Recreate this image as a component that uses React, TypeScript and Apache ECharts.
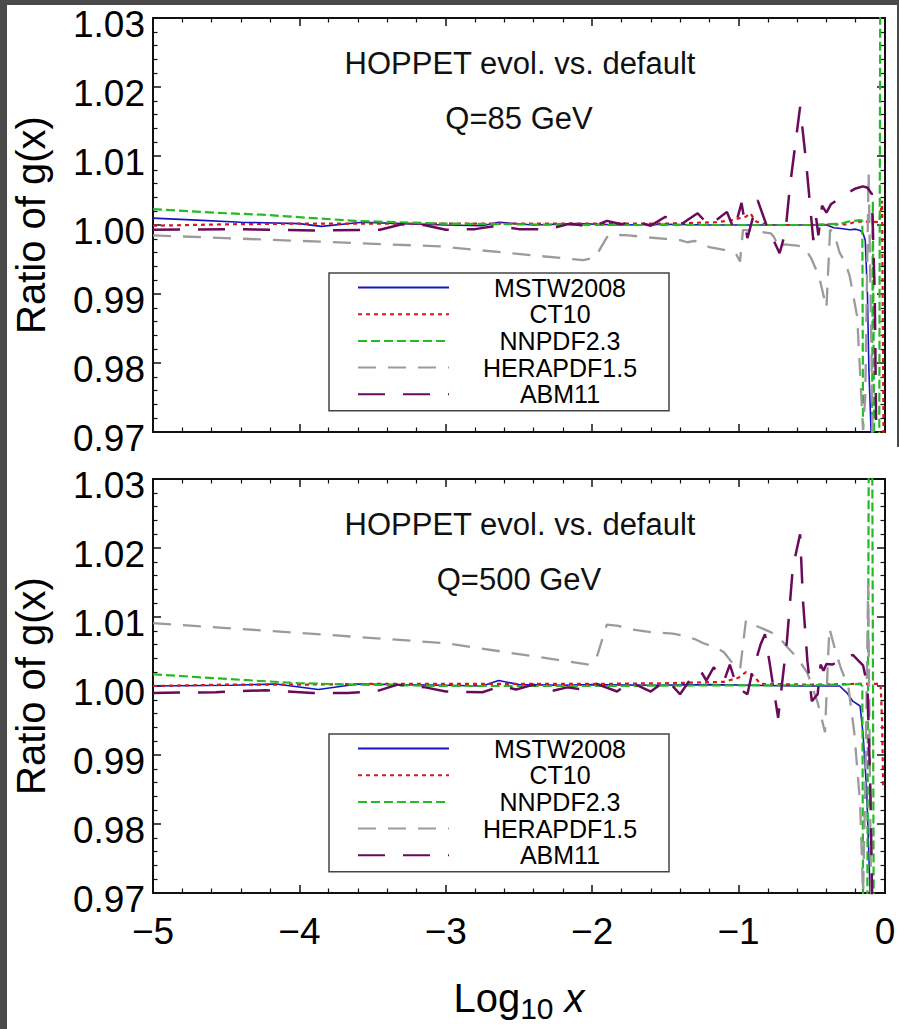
import React, { useEffect, useRef } from 'react';
import * as echarts from 'echarts';

const FONT = '"Liberation Sans", Arial, Helvetica, sans-serif';

const seriesNames = ['MSTW2008', 'CT10', 'NNPDF2.3', 'HERAPDF1.5', 'ABM11'];
const panelTitles = ['HOPPET evol. vs. default', 'HOPPET evol. vs. default'];
const panelScales = ['Q=85 GeV', 'Q=500 GeV'];
const xName = 'Log';
const xNameSub = '10';
const xNameVar = ' x';
const yName = 'Ratio of g(x)';

// ---------- Q = 85 GeV ----------
const mstw85: [number, number][] = [
  [-5, 1.001], [-4.7, 1.0007], [-4.4, 1.0004], [-4.0, 1.0002], [-3.85, 0.9998], [-3.57, 1.0004],
  [-3.31, 1.0002], [-3.0, 1.0], [-2.75, 0.9999], [-2.64, 1.0004], [-2.4, 1.0], [-2.1, 1.0002],
  [-1.8, 1.0], [-1.5, 1.0001], [-1.2, 1.0], [-0.9, 1.0], [-0.6, 1.0], [-0.4, 1.0],
  [-0.35, 0.9996], [-0.3, 0.9995], [-0.24, 0.9993], [-0.2, 0.9994], [-0.17, 0.9992],
  [-0.15, 0.9988], [-0.135, 0.9978], [-0.12, 0.99], [-0.11, 0.979], [-0.095, 0.97], [-0.08, 0.96],
];
const ct1085: [number, number][] = [
  [-5, 0.9999], [-4.5, 1.0001], [-4.0, 1.0002], [-3.5, 1.0002], [-3.0, 1.0002], [-2.5, 1.0002],
  [-2.0, 1.0002], [-1.5, 1.0002], [-1.15, 1.0004], [-1.05, 1.0007], [-0.95, 1.0012],
  [-0.92, 1.0017], [-0.88, 1.0005], [-0.8, 1.0], [-0.5, 1.0], [-0.25, 1.0001], [-0.2, 1.0005],
  [-0.1, 1.0005], [-0.04, 1.0004], [-0.02, 1.0035], [-0.01, 0.97], [0, 0.95],
];
const nnpdf85: [number, number][] = [
  [-5, 1.0023], [-4.5, 1.0017], [-4.26, 1.0015], [-3.62, 1.0006], [-3.02, 1.0002], [-2.5, 1.0001],
  [-2.0, 1.0], [-1.5, 1.0], [-1.0, 1.0], [-0.5, 1.0], [-0.3, 1.0002], [-0.25, 1.0005],
  [-0.17, 1.0007], [-0.155, 1.0006], [-0.148, 0.96], [-0.09, 0.96], [-0.083, 1.0035],
  [-0.072, 0.96], [-0.04, 0.96], [-0.032, 1.04], [-0.025, 1.04],
];
const hera85: [number, number][] = [
  [-5, 0.9985], [-4, 0.9977], [-3.04, 0.9969], [-2.06, 0.9949], [-1.98, 0.9953], [-1.9, 0.9982],
  [-1.88, 0.9986], [-1.75, 0.9985], [-1.62, 0.9982], [-1.5, 0.998], [-1.4, 0.9978], [-1.35, 0.9975],
  [-1.3, 0.9977], [-1.2, 0.9968], [-1.1, 0.9964], [-1.02, 0.9959], [-0.99, 0.9947], [-0.97, 0.9993],
  [-0.85, 0.999], [-0.78, 0.9988], [-0.76, 0.9983], [-0.72, 0.9966], [-0.69, 0.9972], [-0.6, 0.997],
  [-0.55, 0.9968], [-0.5, 0.995], [-0.45, 0.9925], [-0.4, 0.988], [-0.375, 0.9993], [-0.35, 0.999],
  [-0.31, 0.996], [-0.27, 0.9945], [-0.24, 0.9925], [-0.19, 0.9867], [-0.15, 0.9703],
  [-0.135, 0.975], [-0.112, 1.0075], [-0.095, 0.985], [-0.078, 0.96],
];
const abm85: [number, number][] = [
  [-5, 0.9993], [-4.4, 0.9994], [-3.9, 0.9992], [-3.45, 0.9993], [-3.3, 1.0001], [-3.15, 1.0],
  [-3.0, 0.9993], [-2.8, 0.9994], [-2.65, 0.9999], [-2.5, 0.9994], [-2.3, 0.9994], [-2.15, 1.0002],
  [-2.0, 0.9997], [-1.9, 1.0006], [-1.8, 1.0001], [-1.72, 1.0006], [-1.6, 0.9999], [-1.5, 1.0012],
  [-1.4, 1.0], [-1.28, 1.0017], [-1.2, 0.9999], [-1.08, 1.0019], [-1.03, 0.9993], [-0.98, 1.0032],
  [-0.94, 0.9981], [-0.87, 1.0036], [-0.81, 1.0], [-0.72, 0.9959], [-0.68, 0.999], [-0.65, 1.0055],
  [-0.58, 1.0171], [-0.54, 1.0094], [-0.49, 0.9978], [-0.47, 1.001], [-0.455, 0.9985],
  [-0.43, 1.0028], [-0.4, 1.0018], [-0.37, 1.003], [-0.26, 1.0046], [-0.2, 1.0053],
  [-0.15, 1.0056], [-0.12, 1.0054], [-0.09, 1.0045], [-0.07, 0.99], [-0.055, 0.96],
];

// ---------- Q = 500 GeV ----------
const mstw500: [number, number][] = [
  [-5, 1.0], [-4.46, 1.0001], [-4.16, 1.0003], [-3.87, 0.9995], [-3.6, 1.0003], [-3.33, 1.0002],
  [-3.0, 1.0001], [-2.75, 1.0], [-2.64, 1.0008], [-2.5, 1.0002], [-2.2, 1.0001], [-2.0, 1.0002],
  [-1.6, 1.0001], [-1.2, 1.0002], [-0.9, 1.0001], [-0.6, 1.0], [-0.31, 1.0], [-0.26, 0.999],
  [-0.22, 0.9978], [-0.17, 0.9971], [-0.15, 0.993], [-0.125, 0.9848], [-0.102, 0.9703], [-0.09, 0.96],
];
const ct10500: [number, number][] = [
  [-5, 1.0], [-4.5, 1.0002], [-4.0, 1.0002], [-3.5, 1.0003], [-3.0, 1.0003], [-2.5, 1.0003],
  [-2.0, 1.0003], [-1.5, 1.0004], [-1.1, 1.0006], [-1.0, 1.0012], [-0.95, 1.002], [-0.9, 1.0015],
  [-0.85, 1.0003], [-0.5, 1.0002], [-0.2, 1.0003], [-0.03, 1.0003], [-0.02, 0.995], [-0.012, 0.985],
];
const nnpdf500: [number, number][] = [
  [-5, 1.0017], [-4.48, 1.001], [-4.0, 1.0004], [-3.6, 1.0002], [-3.0, 1.0], [-2.0, 1.0],
  [-1.0, 1.0001], [-0.5, 1.0001], [-0.3, 1.0002], [-0.17, 1.0003], [-0.155, 1.0], [-0.148, 0.96],
  [-0.122, 0.96], [-0.11, 1.04], [-0.088, 1.04], [-0.076, 0.96],
];
const hera500: [number, number][] = [
  [-5, 1.0091], [-4, 1.0077], [-3, 1.0062], [-2.02, 1.0031], [-1.97, 1.0041], [-1.9, 1.0089],
  [-1.82, 1.0087], [-1.76, 1.0083], [-1.6, 1.0078], [-1.45, 1.0076], [-1.38, 1.0073], [-1.3, 1.0068],
  [-1.24, 1.0062], [-1.15, 1.0055], [-1.1, 1.0049], [-1.02, 1.0027], [-0.99, 1.0024], [-0.95, 1.0095],
  [-0.9, 1.0089], [-0.78, 1.0078], [-0.73, 1.0072], [-0.67, 1.0057], [-0.6, 1.0041], [-0.53, 1.0019],
  [-0.46, 0.9976], [-0.41, 0.9933], [-0.38, 1.0084], [-0.34, 1.0052], [-0.3, 1.0025], [-0.25, 0.9998],
  [-0.21, 0.9933], [-0.17, 0.983], [-0.15, 0.97], [-0.135, 0.985], [-0.115, 1.0148], [-0.1, 0.98],
  [-0.09, 0.96],
];
const abm500: [number, number][] = [
  [-5, 0.999], [-4.57, 0.9991], [-4.23, 0.9994], [-3.91, 0.999], [-3.67, 0.999], [-3.48, 0.9992],
  [-3.33, 1.0002], [-3.14, 0.9998], [-3.0, 0.9992], [-2.75, 0.9991], [-2.62, 1.0], [-2.52, 0.9995],
  [-2.4, 1.0002], [-2.29, 0.9992], [-2.17, 0.9998], [-2.06, 0.9995], [-1.97, 1.0003], [-1.83, 0.9992],
  [-1.74, 1.0006], [-1.6, 0.9992], [-1.49, 1.0009], [-1.4, 0.9988], [-1.3, 1.0019], [-1.26, 1.0022],
  [-1.22, 1.0008], [-1.17, 1.0027], [-1.1, 1.0007], [-1.06, 1.0031], [-1.01, 0.9998], [-0.94, 0.9988],
  [-0.91, 1.0017], [-0.85, 1.006], [-0.82, 1.0075], [-0.79, 1.0036], [-0.73, 0.9954], [-0.67, 1.0065],
  [-0.63, 1.0171], [-0.58, 1.022], [-0.56, 1.0123], [-0.53, 1.0036], [-0.5, 0.9978], [-0.46, 0.9988],
  [-0.44, 1.0031], [-0.42, 1.0022], [-0.4, 1.0032], [-0.36, 1.0031], [-0.3, 1.0038], [-0.22, 1.0045],
  [-0.15, 1.003], [-0.12, 1.0], [-0.1, 0.985], [-0.08, 0.96],
];

const panelData = [
  [mstw85, ct1085, nnpdf85, hera85, abm85],
  [mstw500, ct10500, nnpdf500, hera500, abm500],
];

const lineStyles = [
  { color: '#1515c0', width: 1.6, type: 'solid' as any },
  { color: '#d01c1c', width: 2.2, type: [4, 4] },
  { color: '#22bb22', width: 2.2, type: [9, 4] },
  { color: '#9b9b9b', width: 2.3, type: [18, 12] },
  { color: '#6a0a5c', width: 2.5, type: [27, 18] },
];

const GRID_LEFT = 153;
const GRID_W = 732;
const GRID_H = 414;
const panelTops = [18, 479];

function buildOption() {
  const frameLine = { show: true, onZero: false, lineStyle: { color: '#111', width: 2 } };
  const tick = { show: true, inside: true, length: 8, lineStyle: { color: '#111', width: 1.5 } };
  const minor = { show: true, splitNumber: 5, length: 4.5, lineStyle: { color: '#111', width: 1.2 } };

  const grid = panelTops.map((t) => ({ left: GRID_LEFT, top: t, width: GRID_W, height: GRID_H }));
  const xAxis: any[] = [];
  const yAxis: any[] = [];
  panelTops.forEach((_, i) => {
    const isBottom = i === panelTops.length - 1;
    xAxis.push({
      gridIndex: i, type: 'value', position: 'bottom', min: -5, max: 0, interval: 1,
      axisLine: frameLine, axisTick: tick, minorTick: minor, splitLine: { show: false },
      axisLabel: {
        show: isBottom, margin: 20, fontSize: 37, fontFamily: FONT, color: '#000',
        formatter: (v: number) => (v < 0 ? '\u2212' + Math.abs(v) : String(v)),
      },
      name: isBottom ? `{a|${xName}}{b|${xNameSub}}{c|${xNameVar}}` : '',
      nameLocation: 'middle', nameGap: 80,
      nameTextStyle: {
        rich: {
          a: { fontSize: 40, fontFamily: FONT, color: '#000', lineHeight: 50 },
          b: { fontSize: 30, fontFamily: FONT, color: '#000', lineHeight: 30, verticalAlign: 'bottom' },
          c: { fontSize: 40, fontFamily: FONT, color: '#000', lineHeight: 50, fontStyle: 'italic' },
        },
      },
    });
    xAxis.push({
      gridIndex: i, type: 'value', position: 'top', min: -5, max: 0, interval: 1,
      axisLine: frameLine, axisTick: tick, minorTick: minor, splitLine: { show: false },
      axisLabel: { show: false },
    });
    yAxis.push({
      gridIndex: i, type: 'value', position: 'left', min: 0.97, max: 1.03, interval: 0.01,
      axisLine: frameLine, axisTick: tick, minorTick: minor, splitLine: { show: false },
      axisLabel: {
        margin: 8, fontSize: 37, fontFamily: FONT, color: '#000', lineHeight: 12, verticalAlign: 'top',
        formatter: (v: number) => v.toFixed(2),
      },
      name: yName, nameLocation: 'middle', nameGap: 102,
      nameTextStyle: { fontSize: 40, fontFamily: FONT, color: '#000' },
    });
    yAxis.push({
      gridIndex: i, type: 'value', position: 'right', min: 0.97, max: 1.03, interval: 0.01,
      axisLine: frameLine, axisTick: tick, minorTick: minor, splitLine: { show: false },
      axisLabel: { show: false },
    });
  });

  const series: any[] = [];
  panelData.forEach((sets, i) => {
    sets.forEach((data, k) => {
      series.push({
        type: 'line', name: seriesNames[k], xAxisIndex: 2 * i, yAxisIndex: 2 * i,
        data, symbol: 'none', showSymbol: false, clip: true, silent: true,
        lineStyle: lineStyles[k], itemStyle: { color: lineStyles[k].color }, z: 2 + k,
      });
    });
  });

  const legend = panelTops.map((t) => ({
    data: seriesNames, left: 329, top: t + 255, orient: 'vertical',
    itemWidth: 91, itemHeight: 14, itemGap: 1.7, padding: [2, 3, 4, 28],
    borderColor: '#444', borderWidth: 1.5, backgroundColor: '#fff', selectedMode: false,
    itemStyle: { color: 'rgba(0,0,0,0)', borderWidth: 0, opacity: 0 },
    formatter: (name: string) => `{c|${name}}`,
    textStyle: {
      fontSize: 25, fontFamily: FONT, color: '#000',
      rich: { c: { width: 212, align: 'center', fontSize: 25, fontFamily: FONT, color: '#000', lineHeight: 26 } },
    },
  }));

  const graphic: any[] = [
    { type: 'rect', shape: { x: 0, y: 0, width: 899, height: 5 }, style: { fill: '#4a4a4a' }, silent: true },
    { type: 'rect', shape: { x: 0, y: 0, width: 7, height: 1029 }, style: { fill: '#4a4a4a' }, silent: true },
    { type: 'rect', shape: { x: 897, y: 0, width: 2, height: 447 }, style: { fill: '#4a4a4a' }, silent: true },
  ];
  panelTops.forEach((t, i) => {
    graphic.push({
      type: 'text', x: GRID_LEFT + GRID_W / 2 + 1, y: t + 45, silent: true,
      style: { text: panelTitles[i], fontSize: 31, fontFamily: FONT, fill: '#111', textAlign: 'center', textVerticalAlign: 'middle' },
    });
    graphic.push({
      type: 'text', x: GRID_LEFT + GRID_W / 2, y: t + 100, silent: true,
      style: { text: panelScales[i], fontSize: 31, fontFamily: FONT, fill: '#111', textAlign: 'center', textVerticalAlign: 'middle' },
    });
  });

  return {
    animation: false,
    backgroundColor: '#ffffff',
    grid, xAxis, yAxis, series, legend, graphic,
  };
}

export default function App() {
  const ref = useRef<HTMLDivElement>(null);
  useEffect(() => {
    const chart = echarts.init(ref.current!, undefined, { renderer: 'svg' });
    chart.setOption(buildOption() as any);
    return () => chart.dispose();
  }, []);
  return (
    <div
      ref={ref}
      style={{ position: 'absolute', left: 0, top: 0, width: 899, height: 1029, background: '#fff' }}
    />
  );
}
